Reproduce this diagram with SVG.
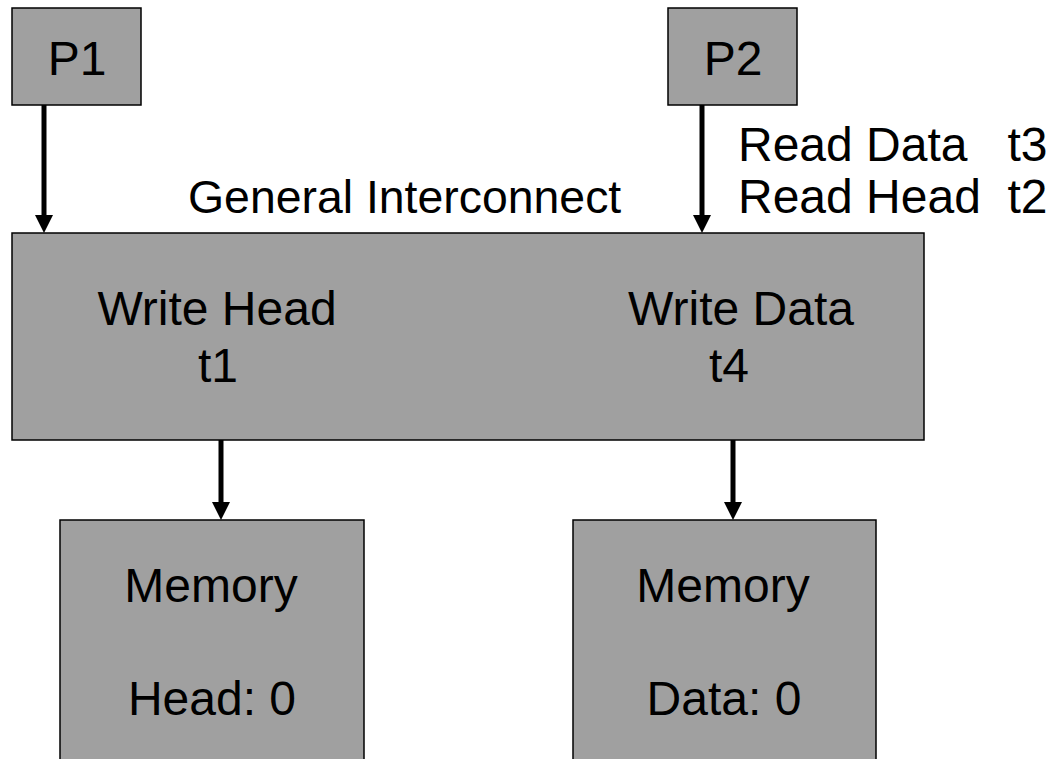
<svg xmlns="http://www.w3.org/2000/svg" width="1051" height="759" viewBox="0 0 1051 759">
<style>
.box{fill:#a0a0a0;stroke:#000;stroke-width:1.5}
.t{font-family:"Liberation Sans",Arial,sans-serif;font-size:48px;fill:#000}
.m{text-anchor:middle}
.shaft{stroke:#000;stroke-width:5}
.head{fill:#000}
</style>
<rect width="1051" height="759" fill="#fff"/>
<g id="connectors">
<line class="shaft" x1="44" y1="105" x2="44" y2="216"/>
<polygon class="head" points="35,215 53,215 44,233"/>
<line class="shaft" x1="702" y1="105" x2="702" y2="216"/>
<polygon class="head" points="693,215 711,215 702,233"/>
<line class="shaft" x1="221" y1="440" x2="221" y2="503"/>
<polygon class="head" points="212,502 230,502 221,520"/>
<line class="shaft" x1="733" y1="440" x2="733" y2="503"/>
<polygon class="head" points="724,502 742,502 733,520"/>
</g>
<g id="p1">
<rect class="box" x="12" y="8" width="129" height="97"/>
<text class="t m" x="77" y="75">P1</text>
</g>
<g id="p2">
<rect class="box" x="668" y="8" width="129" height="97"/>
<text class="t m" x="733" y="75">P2</text>
</g>
<g id="interconnect">
<rect class="box" x="12" y="233" width="912" height="207"/>
<text class="t m" x="217" y="325">Write Head</text>
<text class="t m" x="218" y="382">t1</text>
<text class="t m" x="741" y="325">Write Data</text>
<text class="t m" x="729" y="382">t4</text>
</g>
<g id="labels">
<text class="t" x="188" y="213" style="font-size:46.4px">General Interconnect</text>
<text class="t" x="738" y="161" xml:space="preserve">Read Data   t3</text>
<text class="t" x="738" y="213" xml:space="preserve">Read Head  t2</text>
</g>
<g id="memory-head">
<rect class="box" x="60" y="520" width="304" height="250"/>
<text class="t m" x="211" y="602">Memory</text>
<text class="t m" x="212" y="715">Head: 0</text>
</g>
<g id="memory-data">
<rect class="box" x="573" y="520" width="303" height="250"/>
<text class="t m" x="723" y="602">Memory</text>
<text class="t m" x="724" y="715">Data: 0</text>
</g>
</svg>
